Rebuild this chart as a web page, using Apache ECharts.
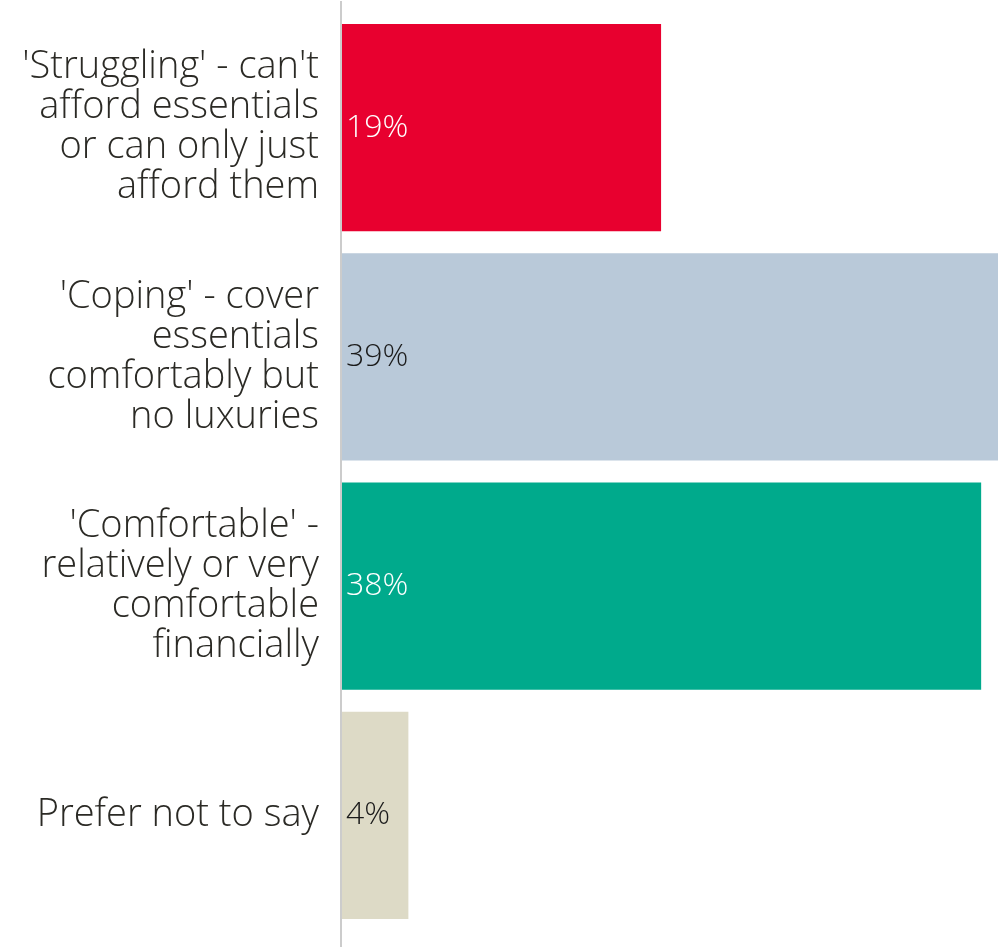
<!DOCTYPE html>
<html>
<head>
<meta charset="utf-8">
<script src="https://cdn.jsdelivr.net/npm/echarts@6/dist/echarts.min.js"></script>
<style>
  html, body { margin: 0; padding: 0; background: #fff; }
  #chart { width: 998px; height: 947px; }
</style>
</head>
<body>
<div id="chart"></div>
<script>
// Financial situation categories and shares (%)
const categories = [
  "'Struggling' - can't\nafford essentials\nor can only just\nafford them",
  "'Coping' - cover\nessentials\ncomfortably but\nno luxuries",
  "'Comfortable' -\nrelatively or very\ncomfortable\nfinancially",
  "Prefer not to say"
];
const values = [19, 39, 38, 4];
const barColors = ['#e8002f', '#b9c9d9', '#00aa8c', '#dddac6'];
const labelColors = ['#ffffff', '#1a1a1a', '#ffffff', '#1a1a1a'];

const FONT = '"Open Sans", Lato, sans-serif';
const chart = echarts.init(document.getElementById('chart'));

chart.setOption({
  animation: false,
  grid: { left: 341, right: 0, top: 13, height: 917, containLabel: false },
  xAxis: {
    type: 'value', min: 0, max: 39,
    show: false
  },
  yAxis: {
    type: 'category',
    inverse: true,
    data: categories,
    axisLine: { show: false },
    axisTick: { show: false },
    axisLabel: {
      margin: 22,
      fontFamily: FONT,
      fontWeight: 300,
      fontSize: 38,
      lineHeight: 40,
      color: '#2b2a25',
      align: 'right'
    }
  },
  graphic: [{
    type: 'line',
    shape: { x1: 341, y1: 1, x2: 341, y2: 947 },
    style: { stroke: '#cccccc', lineWidth: 2 },
    z: 10
  }],
  series: [{
    type: 'bar',
    barCategoryGap: '9.7%',
    data: values.map((v, i) => ({
      value: v,
      itemStyle: { color: barColors[i] },
      label: { color: labelColors[i] }
    })),
    label: {
      show: true,
      position: 'insideLeft',
      distance: 5,
      formatter: '{c}%',
      fontFamily: FONT,
      fontWeight: 300,
      fontSize: 32
    }
  }]
});
</script>
</body>
</html>
